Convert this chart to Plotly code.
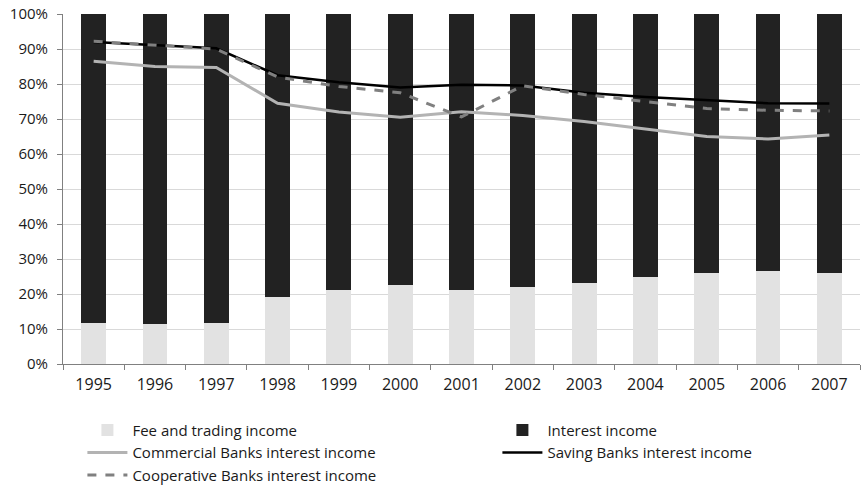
import plotly.graph_objects as go

years = ["1995", "1996", "1997", "1998", "1999", "2000", "2001", "2002", "2003", "2004", "2005", "2006", "2007"]
fee_trading = [11.7, 11.3, 11.8, 19.2, 21.2, 22.6, 21.2, 22.0, 23.1, 24.8, 26.0, 26.5, 26.0]
interest_income = [100 - v for v in fee_trading]
commercial = [86.5, 85.0, 84.7, 74.5, 72.0, 70.5, 72.1, 71.0, 69.3, 67.2, 65.0, 64.3, 65.4]
saving = [92.0, 91.0, 90.2, 82.5, 80.5, 79.0, 79.8, 79.6, 77.5, 76.3, 75.3, 74.5, 74.4]
cooperative = [92.2, 91.0, 90.0, 82.0, 79.3, 77.5, 70.6, 79.5, 77.0, 75.0, 73.0, 72.5, 72.3]

font_family = "'Open Sans', sans-serif"

fig = go.Figure()
fig.add_trace(go.Bar(x=years, y=[v / 100 for v in fee_trading], name="Fee and trading income",
                     marker=dict(color="#e2e2e2", line=dict(width=0))))
fig.add_trace(go.Bar(x=years, y=[v / 100 for v in interest_income], name="Interest income",
                     marker=dict(color="#222222", line=dict(width=0))))
fig.add_trace(go.Scatter(x=years, y=[v / 100 for v in commercial], name="Commercial Banks interest income",
                         mode="lines", line=dict(color="#b3b3b3", width=3)))
fig.add_trace(go.Scatter(x=years, y=[v / 100 for v in saving], name="Saving Banks interest income",
                         mode="lines", line=dict(color="#000000", width=2.5)))
fig.add_trace(go.Scatter(x=years, y=[v / 100 for v in cooperative], name="Cooperative Banks interest income",
                         mode="lines", line=dict(color="#808080", width=3, dash="dash")))

fig.update_layout(
    width=864, height=485,
    margin=dict(l=63, r=4, t=14, b=121, autoexpand=False),
    barmode="stack", bargap=0.595,
    plot_bgcolor="white", paper_bgcolor="white",
    font=dict(family=font_family, size=14, color="#1a1a1a"),
    showlegend=True,
    legend=dict(orientation="h", xref="paper", yref="paper",
                x=-0.002, xanchor="left", y=-0.142, yanchor="top",
                indentation=21, entrywidth=339, entrywidthmode="pixels", traceorder="normal",
                font=dict(size=15), tracegroupgap=0, itemwidth=40),
)
fig.update_xaxes(type="category", showline=True, linecolor="#808080", linewidth=1,
                 ticks="outside", tickson="boundaries", ticklen=5, tickcolor="#808080",
                 showgrid=False, tickfont=dict(size=16), ticklabelstandoff=6)
fig.update_yaxes(range=[0, 1], tickformat=".0%", dtick=0.1, showline=True, linecolor="#808080",
                 linewidth=1, ticks="outside", ticklen=5, tickcolor="#808080",
                 showgrid=True, gridcolor="#d9d9d9", gridwidth=1, zeroline=False,
                 tickfont=dict(size=15), ticklabelstandoff=6)

fig.write_html("out.html", post_script="document.body.style.margin='0';",
               config={"displayModeBar": False})
